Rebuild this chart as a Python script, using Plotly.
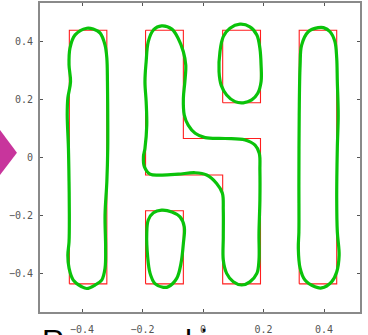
import plotly.graph_objects as go

# ---- red target outlines (data units) ----
bar1_x = [-0.442, -0.318, -0.318, -0.442, -0.442]
bar1_y = [-0.437, -0.437, 0.437, 0.437, -0.437]
s_x = [-0.19, -0.065, -0.065, 0.19, 0.19, 0.065, 0.065, -0.19, -0.19]
s_y = [0.437, 0.437, 0.064, 0.064, -0.437, -0.437, -0.062, -0.062, 0.437]
ur_x = [0.065, 0.19, 0.19, 0.065, 0.065]
ur_y = [0.187, 0.187, 0.437, 0.437, 0.187]
ll_x = [-0.19, -0.065, -0.065, -0.19, -0.19]
ll_y = [-0.437, -0.437, -0.185, -0.185, -0.437]
bar2_x = [0.318, 0.442, 0.442, 0.318, 0.318]
bar2_y = [-0.437, -0.437, 0.437, 0.437, -0.437]

# ---- green recovered contours (data units) ----
ga_x = [-0.384, -0.423, -0.440, -0.443, -0.438, -0.447, -0.449, -0.445, -0.443, -0.442, -0.443,
        -0.447, -0.443, -0.429, -0.401, -0.384, -0.357, -0.335, -0.324, -0.322, -0.324, -0.318,
        -0.315, -0.315, -0.316, -0.318, -0.324, -0.340, -0.363, -0.384]
ga_y = [0.444, 0.421, 0.375, 0.317, 0.260, 0.203, 0.145, 0.031, -0.085, -0.200, -0.292,
        -0.338, -0.383, -0.424, -0.447, -0.453, -0.441, -0.424, -0.383, -0.314, -0.200, -0.085,
        0.031, 0.145, 0.260, 0.341, 0.386, 0.427, 0.441, 0.444]

gb_x = [-0.137, -0.164, -0.181, -0.188, -0.192, -0.188, -0.186, -0.192, -0.197, -0.194, -0.175,
        -0.137, -0.082, -0.026, 0.012, 0.045, 0.064, 0.067, 0.067, 0.067, 0.078, 0.100, 0.128,
        0.155, 0.178, 0.185, 0.185, 0.188, 0.188, 0.186, 0.172, 0.139, 0.073, 0.007, -0.026,
        -0.049, -0.062, -0.065, -0.060, -0.057, -0.065, -0.082, -0.103, -0.137]
gb_y = [0.452, 0.438, 0.398, 0.329, 0.260, 0.191, 0.110, 0.030, 0.001, -0.033, -0.059,
        -0.062, -0.059, -0.054, -0.062, -0.091, -0.125, -0.183, -0.275, -0.355, -0.401, -0.430, -0.441,
        -0.430, -0.401, -0.355, -0.263, -0.148, -0.045, 0.013, 0.041, 0.059, 0.064, 0.067, 0.082,
        0.110, 0.145, 0.202, 0.260, 0.317, 0.363, 0.409, 0.441, 0.452]

gc_x = [0.122, 0.089, 0.067, 0.056, 0.053, 0.060, 0.078, 0.106, 0.133, 0.161, 0.181, 0.192,
        0.192, 0.188, 0.178, 0.155, 0.122]
gc_y = [0.458, 0.444, 0.415, 0.363, 0.294, 0.248, 0.214, 0.191, 0.187, 0.197, 0.220, 0.260,
        0.317, 0.375, 0.421, 0.449, 0.458]

gd_x = [-0.137, -0.103, -0.076, -0.062, -0.065, -0.073, -0.087, -0.115, -0.131, -0.159, -0.175,
        -0.183, -0.186, -0.181, -0.164, -0.137]
gd_y = [-0.183, -0.189, -0.206, -0.240, -0.298, -0.367, -0.418, -0.447, -0.449, -0.436, -0.401,
        -0.344, -0.263, -0.217, -0.192, -0.183]

ge_x = [0.381, 0.348, 0.326, 0.321, 0.318, 0.317, 0.317, 0.315, 0.321, 0.337, 0.370, 0.392,
        0.425, 0.442, 0.450, 0.444, 0.442, 0.444, 0.447, 0.444, 0.442, 0.436, 0.420, 0.398, 0.381]
ge_y = [0.446, 0.432, 0.386, 0.317, 0.145, -0.085, -0.258, -0.314, -0.383, -0.424, -0.447, -0.451,
        -0.430, -0.396, -0.338, -0.258, -0.141, 0.031, 0.145, 0.260, 0.341, 0.398, 0.432, 0.446, 0.446]

x_ticks = [-0.4, -0.2, 0, 0.2, 0.4]
x_tick_labels = ["\u22120.4", "\u22120.2", "0", "0.2", "0.4"]
y_ticks = [-0.4, -0.2, 0, 0.2, 0.4]
y_tick_labels = ["\u22120.4", "\u22120.2", "0", "0.2", "0.4"]
title_text = "Recovered image"

RED = "rgb(255,30,30)"
GREEN = "rgb(10,195,10)"

fig = go.Figure()
for xs, ys in [(bar1_x, bar1_y), (s_x, s_y), (ur_x, ur_y), (ll_x, ll_y), (bar2_x, bar2_y)]:
    fig.add_trace(go.Scatter(x=xs, y=ys, mode="lines", line=dict(color=RED, width=1.1),
                             hoverinfo="skip", showlegend=False))
for xs, ys in [(ga_x, ga_y), (gb_x, gb_y), (gc_x, gc_y), (gd_x, gd_y), (ge_x, ge_y)]:
    fig.add_trace(go.Scatter(x=xs, y=ys, mode="lines",
                             line=dict(color=GREEN, width=3.2, shape="spline", smoothing=1.0),
                             hoverinfo="skip", showlegend=False))

axis_common = dict(showgrid=False, zeroline=False, showline=True, linecolor="#8a8a8a",
                   linewidth=2, mirror="ticks", ticks="inside", ticklen=3, tickwidth=1,
                   tickcolor="#555", automargin=False,
                   tickfont=dict(family="DejaVu Sans Mono", size=10, color="#555"))

fig.update_layout(
    width=368, height=335,
    margin=dict(l=40, r=8, t=3, b=23),
    paper_bgcolor="white", plot_bgcolor="white",
    xaxis=dict(range=[-0.539, 0.519], tickvals=x_ticks, ticktext=x_tick_labels,
               ticklabelstandoff=7, **axis_common),
    yaxis=dict(range=[-0.534, 0.531], tickvals=y_ticks, ticktext=y_tick_labels,
               ticklabelstandoff=3, **axis_common),
    annotations=[dict(text=title_text, xref="paper", yref="paper", x=0.0, y=-0.033,
                      xanchor="left", yanchor="top", showarrow=False,
                      font=dict(family="Liberation Sans", size=31, color="black"))],
    shapes=[dict(type="path", xref="paper", yref="paper",
                 path="M -0.125 0.589 L -0.072 0.515 L -0.125 0.443 Z",
                 fillcolor="rgb(200,53,156)", line=dict(width=0))],
)

fig.write_html("out.html", config={"displayModeBar": False},
               post_script="document.body.style.margin='0px';document.body.style.overflow='hidden';")
